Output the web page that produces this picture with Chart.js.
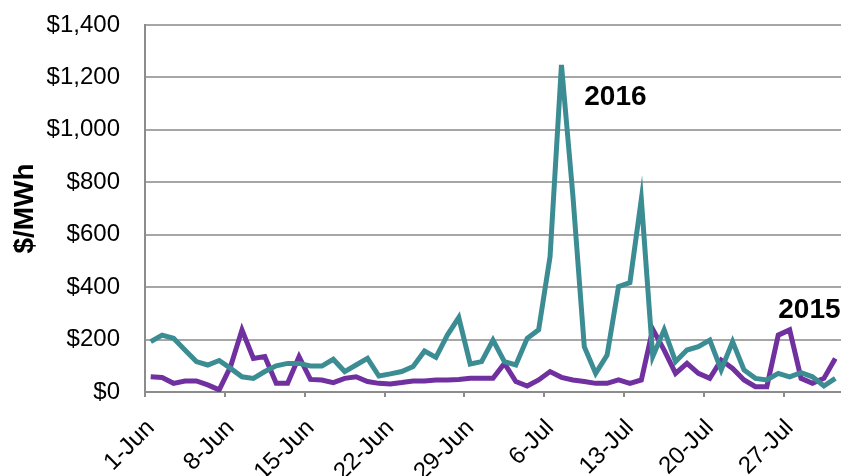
<!DOCTYPE html>
<html>
<head>
<meta charset="utf-8">
<script src="https://cdn.jsdelivr.net/npm/chart.js@4/dist/chart.umd.min.js"></script>
<style>
    html, body { margin: 0; padding: 0; background: #fff; }
    #wrap { width: 841px; height: 476px; }
</style>
</head>
<body>
<div id="wrap"><canvas id="priceChart" width="841" height="476"></canvas></div>
<script>
// one point per day, 1-Jun to 31-Jul
let days = [
    "1-Jun", "2-Jun", "3-Jun", "4-Jun", "5-Jun", "6-Jun", "7-Jun", "8-Jun", "9-Jun", "10-Jun",
    "11-Jun", "12-Jun", "13-Jun", "14-Jun", "15-Jun", "16-Jun", "17-Jun", "18-Jun", "19-Jun", "20-Jun",
    "21-Jun", "22-Jun", "23-Jun", "24-Jun", "25-Jun", "26-Jun", "27-Jun", "28-Jun", "29-Jun", "30-Jun",
    "1-Jul", "2-Jul", "3-Jul", "4-Jul", "5-Jul", "6-Jul", "7-Jul", "8-Jul", "9-Jul", "10-Jul",
    "11-Jul", "12-Jul", "13-Jul", "14-Jul", "15-Jul", "16-Jul", "17-Jul", "18-Jul", "19-Jul", "20-Jul",
    "21-Jul", "22-Jul", "23-Jul", "24-Jul", "25-Jul", "26-Jul", "27-Jul", "28-Jul", "29-Jul", "30-Jul",
    "31-Jul"
];

// only every 7th day gets a label
let tickDays = ["1-Jun", "8-Jun", "15-Jun", "22-Jun", "29-Jun", "6-Jul", "13-Jul", "20-Jul", "27-Jul"];

let price2016 = [
    192, 217, 205, 160, 116, 103, 120, 90, 58, 52,
    78, 100, 109, 109, 99, 99, 125, 78, 103, 128,
    61, 69, 78, 97, 156, 132, 217, 284, 107, 116,
    198, 116, 103, 205, 237, 516, 1248, 750, 173, 71,
    141, 402, 417, 735, 135, 237, 116, 160, 173, 198,
    84, 192, 84, 52, 46, 71, 58, 74, 58, 23,
    52
];

let price2015 = [
    58, 55, 33, 42, 42, 27, 8, 97, 237, 128,
    135, 33, 33, 135, 48, 46, 36, 52, 58, 40,
    33, 31, 36, 42, 42, 46, 46, 48, 52, 52,
    52, 109, 40, 23, 46, 78, 56, 46, 40, 33,
    33, 46, 33, 46, 239, 160, 71, 109, 71, 52,
    122, 90, 46, 20, 20, 217, 237, 52, 33, 52,
    128
];

let yTicks = [0, 200, 400, 600, 800, 1000, 1200, 1400];

// series name labels sitting next to the lines
let seriesLabels = [
    { text: "2016", day: "9-Jul", value: 1125 },
    { text: "2015", day: "26-Jul", value: 313 }
];

let labelPlugin = {
    id: "seriesLabels",
    afterDatasetsDraw(chart) {
        let ctx = chart.ctx;
        let xs = chart.scales.x;
        let ys = chart.scales.y;
        ctx.save();
        ctx.font = "bold 28px 'Liberation Sans', Arial, sans-serif";
        ctx.fillStyle = "#000";
        ctx.textAlign = "left";
        ctx.textBaseline = "middle";
        seriesLabels.forEach(l => {
            ctx.fillText(l.text, xs.getPixelForValue(days.indexOf(l.day)), ys.getPixelForValue(l.value));
        });
        ctx.restore();
    }
};

let ctx = document.getElementById("priceChart").getContext("2d");
new Chart(ctx, {
    type: "line",
    data: {
        labels: days,
        datasets: [{
            label: "2016",
            data: price2016,
            borderColor: "#3C8D93",
            borderWidth: 5,
            pointRadius: 0,
            tension: 0
        }, {
            label: "2015",
            data: price2015,
            borderColor: "#7030A0",
            borderWidth: 5,
            pointRadius: 0,
            tension: 0
        }]
    },
    options: {
        responsive: false,
        animation: false,
        layout: { padding: { left: 8, top: 25, right: 0, bottom: 0 } },
        plugins: {
            legend: { display: false },
            tooltip: { enabled: false }
        },
        scales: {
            x: {
                offset: true,
                afterFit: function (scale) {
                    scale.height = 84;
                    scale.paddingRight = 0;
                },
                border: { color: "#8C8C8C", width: 2 },
                grid: {
                    offset: true,
                    drawOnChartArea: false,
                    tickLength: 5,
                    lineWidth: 2,
                    color: function (c) { return c.index % 7 === 0 ? "#8C8C8C" : "rgba(0,0,0,0)"; }
                },
                ticks: {
                    autoSkip: false,
                    maxRotation: 45,
                    minRotation: 45,
                    padding: 17,
                    color: "#000",
                    font: { family: "'Liberation Sans', Arial, sans-serif", size: 24 },
                    callback: function (val, i) {
                        return tickDays.includes(days[i]) ? days[i] : "";
                    }
                }
            },
            y: {
                min: yTicks[0],
                max: yTicks[yTicks.length - 1],
                afterFit: function (scale) {
                    scale.width = 137;
                    scale.paddingTop = 0;
                    scale.paddingBottom = 0;
                },
                afterBuildTicks: function (scale) {
                    scale.ticks = yTicks.map(v => ({ value: v }));
                },
                border: { color: "#8C8C8C", width: 2 },
                grid: {
                    color: "#A6A6A6",
                    lineWidth: 2,
                    drawTicks: false
                },
                ticks: {
                    padding: 25,
                    color: "#000",
                    font: { family: "'Liberation Sans', Arial, sans-serif", size: 24 },
                    callback: function (v) { return "$" + v.toLocaleString("en-US"); }
                },
                title: {
                    display: true,
                    text: "$/MWh",
                    color: "#000",
                    padding: 0,
                    font: { family: "'Liberation Sans', Arial, sans-serif", size: 28, weight: "bold" }
                }
            }
        }
    },
    plugins: [labelPlugin]
});
</script>
</body>
</html>
